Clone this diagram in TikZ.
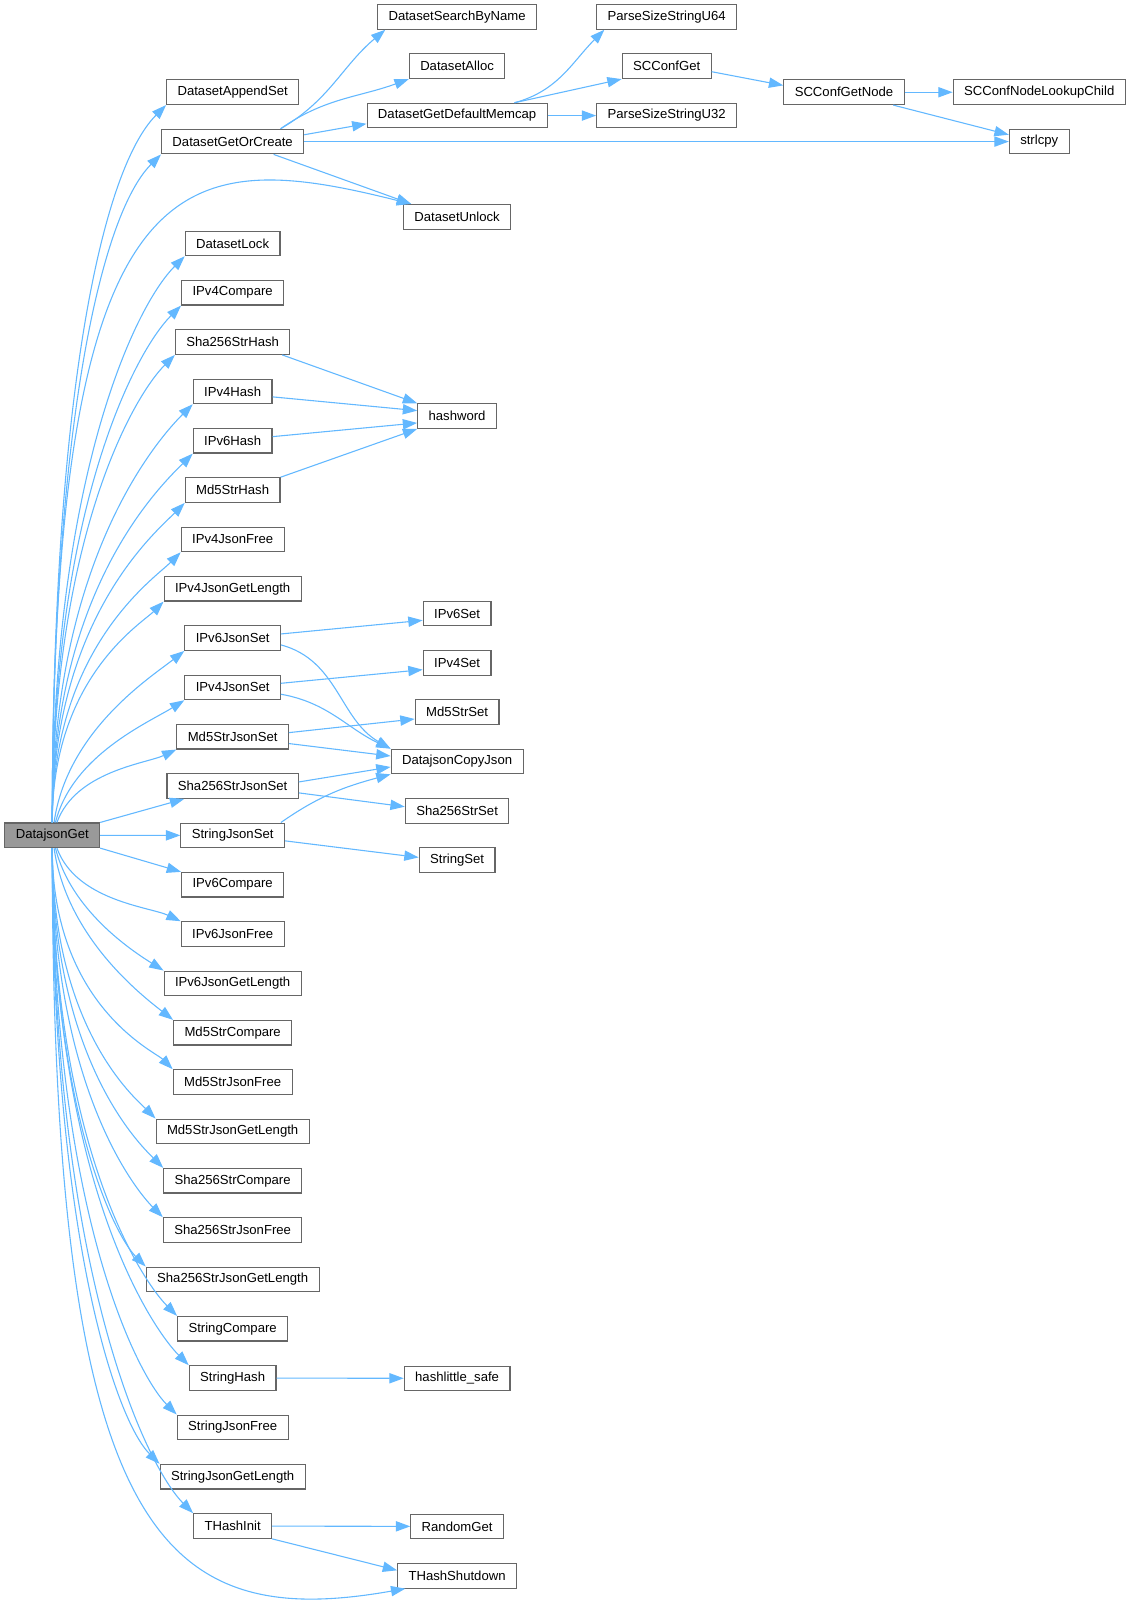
\documentclass[tikz,border=0pt]{standalone}
\usepackage{fontspec}
\setsansfont{Liberation Sans}
\usetikzlibrary{arrows.meta, positioning}
\definecolor{edgeblue}{HTML}{63B8FF}
\definecolor{boxgray}{HTML}{666666}
\definecolor{rootgray}{HTML}{999999}
\tikzset{%
>={Triangle[width=7.5pt,length=10.5pt]},
  % Specifications for style of nodes:
            fn/.style = {rectangle, draw=boxgray, fill=white, line width=0.8pt,
                            minimum height=18pt, inner xsep=8pt, inner ysep=2pt,
                            font=\sffamily\fontsize{9.6}{11}\selectfont},
            cur/.style = {fn, fill=rootgray},
  % Specifications for style of calls:
            call/.style = {->, draw=edgeblue, line width=0.8pt},
            fanup/.style = {call, out=90, in=#1, out looseness=1.5, in looseness=0.32},
            fanup/.default = 225,
            fandown/.style = {call, out=-90, in=#1, out looseness=1.6, in looseness=0.25},
            fandown/.default = 135
}
\begin{document}
\begin{tikzpicture}[x=0.75pt, y=0.75pt, node distance=36.1pt, every node/.style={fn}]

                \useasboundingbox (0,0) rectangle (1104,-1568);

                \node[cur] (DatajsonGet) at (51,-815) {DatajsonGet};

                \node (DatasetAppendSet) at (227,-90) {DatasetAppendSet};
                \node[below of=DatasetAppendSet] (DatasetGetOrCreate) {DatasetGetOrCreate};
                \node (DatasetLock) at (227,-237.5) {DatasetLock};
                \node[below of=DatasetLock] (IPv4Compare) {IPv4Compare};
                \node[below of=IPv4Compare] (Sha256StrHash) {Sha256StrHash};
                \node[below of=Sha256StrHash] (IPv4Hash) {IPv4Hash};
                \node[below of=IPv4Hash] (IPv6Hash) {IPv6Hash};
                \node[below of=IPv6Hash] (Md5StrHash) {Md5StrHash};
                \node[below of=Md5StrHash] (IPv4JsonFree) {IPv4JsonFree};
                \node[below of=IPv4JsonFree] (IPv4JsonGetLength) {IPv4JsonGetLength};
                \node[below of=IPv4JsonGetLength] (IPv6JsonSet) {IPv6JsonSet};
                \node[below of=IPv6JsonSet] (IPv4JsonSet) {IPv4JsonSet};
                \node[below of=IPv4JsonSet] (Md5StrJsonSet) {Md5StrJsonSet};
                \node[below of=Md5StrJsonSet] (Sha256StrJsonSet) {Sha256StrJsonSet};
                \node[below of=Sha256StrJsonSet] (StringJsonSet) {StringJsonSet};
                \node[below of=StringJsonSet] (IPv6Compare) {IPv6Compare};
                \node[below of=IPv6Compare] (IPv6JsonFree) {IPv6JsonFree};
                \node[below of=IPv6JsonFree] (IPv6JsonGetLength) {IPv6JsonGetLength};
                \node[below of=IPv6JsonGetLength] (Md5StrCompare) {Md5StrCompare};
                \node[below of=Md5StrCompare] (Md5StrJsonFree) {Md5StrJsonFree};
                \node[below of=Md5StrJsonFree] (Md5StrJsonGetLength) {Md5StrJsonGetLength};
                \node[below of=Md5StrJsonGetLength] (Sha256StrCompare) {Sha256StrCompare};
                \node[below of=Sha256StrCompare] (Sha256StrJsonFree) {Sha256StrJsonFree};
                \node[below of=Sha256StrJsonFree] (Sha256StrJsonGetLength) {Sha256StrJsonGetLength};
                \node[below of=Sha256StrJsonGetLength] (StringCompare) {StringCompare};
                \node[below of=StringCompare] (StringHash) {StringHash};
                \node[below of=StringHash] (StringJsonFree) {StringJsonFree};
                \node[below of=StringJsonFree] (StringJsonGetLength) {StringJsonGetLength};
                \node[below of=StringJsonGetLength] (THashInit) {THashInit};

                \node (DatasetSearchByName) at (446,-16.5) {DatasetSearchByName};
                \node[below of=DatasetSearchByName] (DatasetAlloc) {DatasetAlloc};
                \node[below of=DatasetAlloc] (DatasetGetDefaultMemcap) {DatasetGetDefaultMemcap};
                \node (DatasetUnlock) at (446,-211.5) {DatasetUnlock};
                \node (hashword) at (446,-406) {hashword};
                \node (IPv6Set) at (446,-598.6) {IPv6Set};
                \node[below of=IPv6Set] (IPv4Set) {IPv4Set};
                \node[below of=IPv4Set] (Md5StrSet) {Md5StrSet};
                \node[below of=Md5StrSet] (DatajsonCopyJson) {DatajsonCopyJson};
                \node[below of=DatajsonCopyJson] (Sha256StrSet) {Sha256StrSet};
                \node[below of=Sha256StrSet] (StringSet) {StringSet};
                \node (hashlittleSafe) at (446,-1344.9) {hashlittle\_safe};
                \node (RandomGet) at (446,-1489.4) {RandomGet};
                \node[below of=RandomGet] (THashShutdown) {THashShutdown};

                \node (ParseSizeStringU64) at (650.5,-16.5) {ParseSizeStringU64};
                \node[below of=ParseSizeStringU64] (SCConfGet) {SCConfGet};
                \node[below of=SCConfGet] (ParseSizeStringU32) {ParseSizeStringU32};
                \node (SCConfGetNode) at (823.5,-90) {SCConfGetNode};
                \node (SCConfNodeLookupChild) at (1014,-90) {SCConfNodeLookupChild};
                \node[below of=SCConfNodeLookupChild] (strlcpy) {strlcpy};

                % calls of DatajsonGet
                \draw[fanup] (DatajsonGet) to (DatasetAppendSet.south west);
                \draw[fanup] (DatajsonGet) to (DatasetGetOrCreate.south west);
                \draw[call] (DatajsonGet) to[out=90, in=166, out looseness=2.4, in looseness=0.85] ([xshift=6pt]DatasetUnlock.north west);
                \draw[fanup] (DatajsonGet) to (DatasetLock.south west);
                \draw[fanup] (DatajsonGet) to (IPv4Compare.south west);
                \draw[fanup] (DatajsonGet) to (Sha256StrHash.south west);
                \draw[fanup] (DatajsonGet) to (IPv4Hash.south west);
                \draw[fanup] (DatajsonGet) to (IPv6Hash.south west);
                \draw[fanup] (DatajsonGet) to (Md5StrHash.south west);
                \draw[fanup] (DatajsonGet) to (IPv4JsonFree.south west);
                \draw[fanup] (DatajsonGet) to (IPv4JsonGetLength.south west);
                \draw[fanup=218, out=82, out looseness=1.1, in looseness=0.5] (DatajsonGet) to (IPv6JsonSet.south west);
                \draw[fanup=212, out=76, out looseness=1, in looseness=0.6] (DatajsonGet) to (IPv4JsonSet.south west);
                \draw[fanup=205, out=70, out looseness=1, in looseness=0.6] (DatajsonGet) to (Md5StrJsonSet.south west);
                \draw[call] (DatajsonGet.north east) -- ([xshift=13pt]Sha256StrJsonSet.south west);
                \draw[call] (DatajsonGet) -- (StringJsonSet);
                \draw[call] (DatajsonGet.south east) -- (IPv6Compare.north west);
                \draw[fandown=155, out=-70, out looseness=1, in looseness=0.6] (DatajsonGet) to (IPv6JsonFree.north west);
                \draw[fandown=148, out=-76, out looseness=1, in looseness=0.6] (DatajsonGet) to (IPv6JsonGetLength.north west);
                \draw[fandown=142, out=-82, out looseness=1.1, in looseness=0.5] (DatajsonGet) to (Md5StrCompare.north west);
                \draw[fandown] (DatajsonGet) to (Md5StrJsonFree.north west);
                \draw[fandown] (DatajsonGet) to (Md5StrJsonGetLength.north west);
                \draw[fandown] (DatajsonGet) to (Sha256StrCompare.north west);
                \draw[fandown] (DatajsonGet) to (Sha256StrJsonFree.north west);
                \draw[fandown] (DatajsonGet) to (Sha256StrJsonGetLength.north west);
                \draw[fandown] (DatajsonGet) to (StringCompare.north west);
                \draw[fandown] (DatajsonGet) to (StringHash.north west);
                \draw[fandown] (DatajsonGet) to (StringJsonFree.north west);
                \draw[fandown] (DatajsonGet) to (StringJsonGetLength.north west);
                \draw[fandown] (DatajsonGet) to (THashInit.north west);
                \draw[call] (DatajsonGet) to[out=-90, in=190, out looseness=2.15, in looseness=0.77] ([xshift=6pt]THashShutdown.south west);

                % calls further down
                \draw[call] (DatasetGetOrCreate.15) to[out=30, in=220] ([xshift=6pt]DatasetSearchByName.south west);
                \draw[call] (DatasetGetOrCreate.15) to[out=35, in=200] (DatasetAlloc.south west);
                \draw[call] ([yshift=5pt]DatasetGetOrCreate.east) -- ([yshift=-6pt]DatasetGetDefaultMemcap.west);
                \draw[call] (DatasetGetOrCreate) -- (strlcpy);
                \draw[call] ([xshift=30pt]DatasetGetOrCreate.south) -- ([xshift=6pt]DatasetUnlock.north west);
                \draw[call] ([xshift=42pt]DatasetGetDefaultMemcap.north) to[out=15, in=225] ([xshift=6pt]ParseSizeStringU64.south west);
                \draw[call] ([xshift=42pt]DatasetGetDefaultMemcap.north) -- (SCConfGet.south west);
                \draw[call] (DatasetGetDefaultMemcap) -- (ParseSizeStringU32);
                \draw[call] ([yshift=-4pt]SCConfGet.east) -- ([yshift=5pt]SCConfGetNode.west);
                \draw[call] (SCConfGetNode) -- (SCConfNodeLookupChild);
                \draw[call] ([xshift=36pt]SCConfGetNode.south) -- ([yshift=5pt]strlcpy.west);

                \draw[call] ([xshift=-6pt]Sha256StrHash.south east) -- (hashword.north west);
                \draw[call] ([yshift=-4pt]IPv4Hash.east) -- ([yshift=4pt]hashword.west);
                \draw[call] ([yshift=3pt]IPv6Hash.east) -- ([yshift=-5pt]hashword.west);
                \draw[call] (Md5StrHash.north east) -- (hashword.south west);

                \draw[call] ([yshift=3pt]IPv6JsonSet.east) -- ([yshift=-5pt]IPv6Set.west);
                \draw[call] ([yshift=-5pt]IPv6JsonSet.east) to[out=-15, in=150] (DatajsonCopyJson.north west);
                \draw[call] ([yshift=3pt]IPv4JsonSet.east) -- ([yshift=-5pt]IPv4Set.west);
                \draw[call] ([yshift=-5pt]IPv4JsonSet.east) to[out=-10, in=155] (DatajsonCopyJson.north west);
                \draw[call] ([yshift=3pt]Md5StrJsonSet.east) -- ([yshift=-5pt]Md5StrSet.west);
                \draw[call] ([yshift=-5pt]Md5StrJsonSet.east) -- ([yshift=4pt]DatajsonCopyJson.west);
                \draw[call] ([yshift=3pt]Sha256StrJsonSet.east) -- ([yshift=-4pt]DatajsonCopyJson.west);
                \draw[call] ([yshift=-5pt]Sha256StrJsonSet.east) -- ([yshift=3pt]Sha256StrSet.west);
                \draw[call] ([xshift=-3pt]StringJsonSet.north east) to[out=35, in=195] (DatajsonCopyJson.south west);
                \draw[call] ([yshift=-4pt]StringJsonSet.east) -- ([yshift=2pt]StringSet.west);

                \draw[call] (StringHash) -- (hashlittleSafe);
                \draw[call] (THashInit) -- (RandomGet);
                \draw[call] (THashInit.south east) -- ([yshift=4pt]THashShutdown.west);

            \end{tikzpicture}
\end{document}
